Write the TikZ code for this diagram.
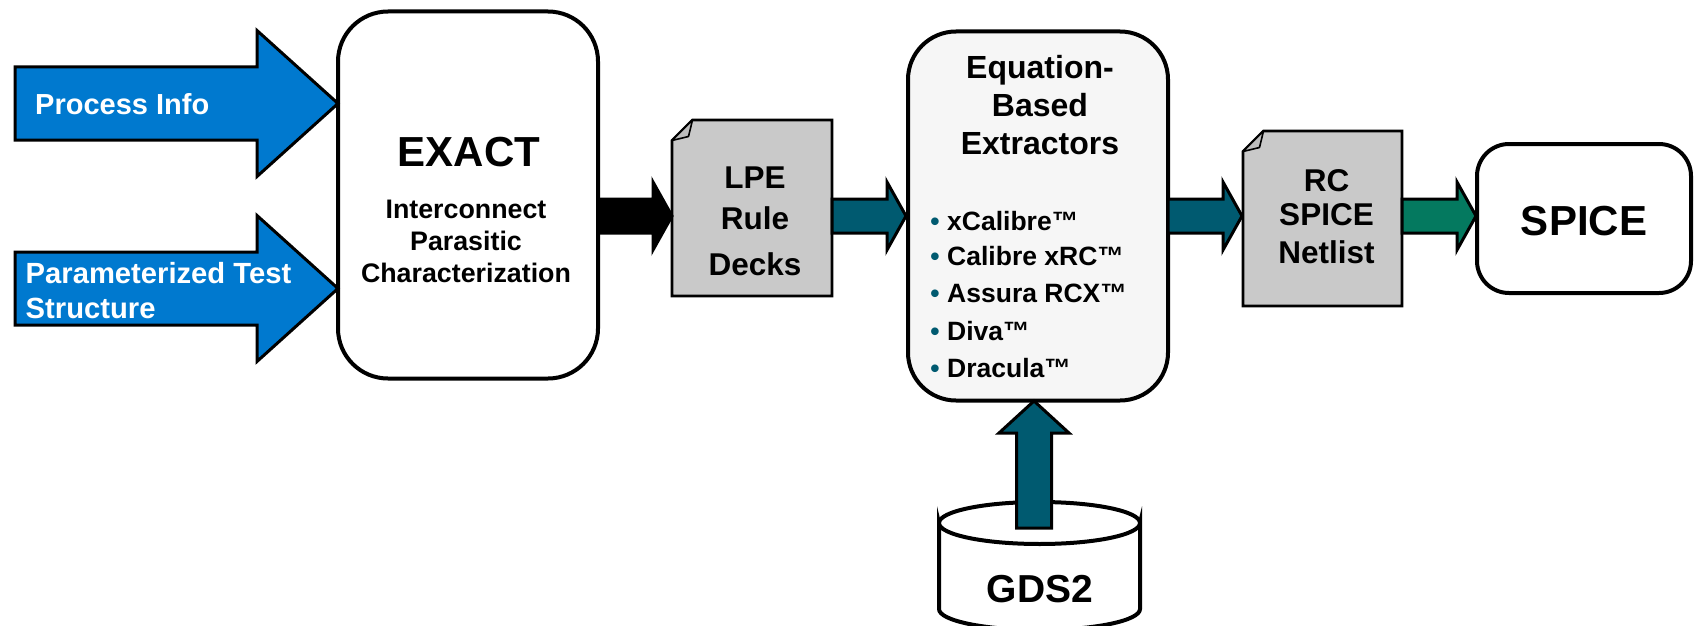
\documentclass[tikz,border=0pt]{standalone}
\usepackage{fontspec}
\setmainfont{Liberation Sans}
\usetikzlibrary{calc}
\definecolor{arrowblue}{HTML}{0079CF}
\definecolor{deepteal}{HTML}{005A70}
\definecolor{deepgreen}{HTML}{04795F}
\definecolor{docgray}{HTML}{C9C9C9}
\definecolor{foldgray}{HTML}{BDBDBD}
\definecolor{panelgray}{HTML}{F6F6F6}
\newcommand{\fsz}[2]{\fontsize{#1}{#2}\selectfont\bfseries}
% start, tip, head length, half shaft, half head, colour
\newcommand{\blockright}[6]{%
  \draw[blockedge,fill=#6] let \p1=(#1), \p2=(#2) in
    (\x1,\y1+#4pt) -- (\x2-#3pt,\y1+#4pt) -- (\x2-#3pt,\y1+#5pt) -- (\x2,\y1)
    -- (\x2-#3pt,\y1-#5pt) -- (\x2-#3pt,\y1-#4pt) -- (\x1,\y1-#4pt) -- cycle;}
% node name of a page: outline with folded corner
\newcommand{\docpage}[1]{%
  \draw[pageedge,fill=docgray]
    ($(#1.north west)+(20.5pt,0)$) -- (#1.north east) -- (#1.south east)
    -- (#1.south west) -- ($(#1.north west)+(0,-20.5pt)$) -- cycle;
  \draw[line width=1.6pt,line join=round,fill=foldgray]
    ($(#1.north west)+(20.5pt,0)$) -- ($(#1.north west)+(16.5pt,-16.5pt)$)
    -- ($(#1.north west)+(0,-20.5pt)$) -- cycle;}
\tikzset{
  blockedge/.style={draw=black,line width=3pt,line join=miter,miter limit=6},
  pageedge/.style={draw=black,line width=2.8pt,line join=miter},
  panel/.style={draw=black,line width=4pt,rounded corners=#1,inner sep=0pt,anchor=center},
  pagebox/.style={inner sep=0pt,outer sep=0pt,anchor=center},
  label/.style={inner sep=0pt,anchor=base,align=center,text=black},
  arrowlabel/.style={inner sep=0pt,anchor=base west,align=left,text=white},
  toollabel/.style={inner sep=0pt,anchor=base west,font=\fsz{26.5}{30}},
}
\begin{document}
\begin{tikzpicture}[x=1pt,y=-1pt]
\useasboundingbox (0,0) rectangle (1695,626);
\clip (0,0) rectangle (1695,626);
\fill[white] (0,0) rectangle (1695,626);

% boxes
\node[panel=50pt,minimum width=260pt,minimum height=367pt] (exact) at (468,195) {};
\node[panel=48pt,minimum width=260pt,minimum height=369pt,fill=panelgray] (extract) at (1038,216) {};
\node[panel=32pt,minimum width=214pt,minimum height=149pt] (spice) at (1584,218.5) {};
\node[pagebox,minimum width=160pt,minimum height=176pt] (lpe) at (752,208) {};
\node[pagebox,minimum width=159pt,minimum height=175pt] (netlist) at (1322.5,218.5) {};
\docpage{lpe}
\docpage{netlist}

% database cylinder
\coordinate (gdsl) at (939,523);
\coordinate (gdsr) at (1140,523);
\draw[line width=4pt,fill=white] (gdsl) arc[start angle=180,end angle=0,x radius=100.5,y radius=21]
   -- (1140,609) arc[start angle=0,end angle=180,x radius=100.5,y radius=21] -- cycle;
\draw[line width=4pt] (gdsl) arc[start angle=180,end angle=360,x radius=100.5,y radius=21];

% anchors of block arrows
\coordinate (s1) at (15,103.5);
\coordinate (t1) at (338,103.5);
\coordinate (s2) at (15,288.5);
\coordinate (t2) at (338,288.5);
\coordinate (s3) at (598,216);
\coordinate (t3) at (672,216);
\coordinate (s4) at (832,216);
\coordinate (t4) at (906,216);
\coordinate (s5) at (1168,216);
\coordinate (t5) at (1242,216);
\coordinate (s6) at (1402,216);
\coordinate (t6) at (1476,216);

\blockright{s1}{t1}{81}{36.5}{73}{arrowblue}
\blockright{s2}{t2}{81}{36.5}{73}{arrowblue}
\blockright{s3}{t3}{19}{17}{34}{black}
\blockright{s4}{t4}{19}{17}{34}{deepteal}
\blockright{s5}{t5}{19}{17}{34}{deepteal}
\blockright{s6}{t6}{19}{17}{34}{deepgreen}

% up arrow from the database
\coordinate (gdsout) at (1034,528);
\coordinate (extin) at (1034,401);
\draw[blockedge,fill=deepteal] let \p1=(gdsout), \p2=(extin) in
  (\x1-17.5pt,\y1) -- (\x1-17.5pt,\y2-32pt) -- (\x1-35pt,\y2-32pt) -- (\x2,\y2)
  -- (\x1+35pt,\y2-32pt) -- (\x1+17.5pt,\y2-32pt) -- (\x1+17.5pt,\y1) -- cycle;

% labels
\node[arrowlabel,font=\fsz{29}{35}] (lproc) at (35,114) {Process Info};
\node[arrowlabel,font=\fsz{29.2}{35}] (lparam) at (25.5,318) {Parameterized Test\\Structure};
\node[inner sep=0pt,anchor=base,font=\fsz{42}{50}] (lexact) at (469,166) {EXACT};
\node[label,font=\fsz{26.8}{32}] (lchar) at (466,282) {Interconnect\\Parasitic\\Characterization};
\node[label,font=\fsz{31.5}{38}] (llpe) at (755,275) {LPE\\[3pt]Rule\\[8pt]Decks};
\node[label,font=\fsz{32}{38}] (lext) at (1040,154) {Equation-\\Based\\Extractors};
\node[toollabel] (t1l) at (947,230.7) {\llap{\textcolor{deepteal}{•}\hspace{7.5pt}}xCalibre™};
\node[toollabel] (t2l) at (947,265.5) {\llap{\textcolor{deepteal}{•}\hspace{7.5pt}}Calibre xRC™};
\node[toollabel] (t3l) at (947,302.7) {\llap{\textcolor{deepteal}{•}\hspace{7.5pt}}Assura RCX™};
\node[toollabel] (t4l) at (947,340.7) {\llap{\textcolor{deepteal}{•}\hspace{7.5pt}}Diva™};
\node[toollabel] (t5l) at (947,377.7) {\llap{\textcolor{deepteal}{•}\hspace{7.5pt}}Dracula™};
\node[label,font=\fsz{31.5}{34}] (lnet) at (1326.5,263) {RC\\SPICE\\[4pt]Netlist};
\node[inner sep=0pt,anchor=base,font=\fsz{42}{50}] (lspice) at (1584,235) {SPICE};
\node[inner sep=0pt,anchor=base,font=\fsz{39}{46}] (lgds) at (1040,602.7) {GDS2};
\end{tikzpicture}
\end{document}
